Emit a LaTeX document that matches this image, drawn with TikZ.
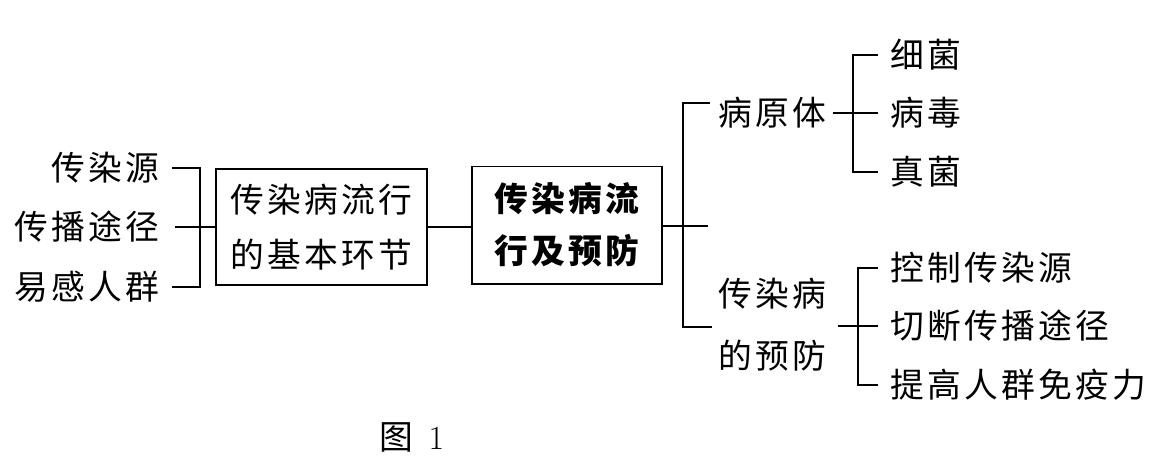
\documentclass[tikz,border=0pt]{standalone}
\usepackage{fontspec}
\newfontfamily\cjk[LetterSpace=10]{Noto Sans CJK SC}
\usepackage{tikz}
\usetikzlibrary{positioning,calc}

\begin{document}
\begin{tikzpicture}[
  x=0.025cm, y=-0.025cm,
  item/.style={inner sep=0pt, font=\cjk\fontsize{24}{31}\selectfont},
  frame/.style={draw, line width=1.4pt, inner sep=0pt, align=center, font=\cjk\fontsize{24}{39}\selectfont},
  link/.style={draw, line width=1.4pt}
]
  \useasboundingbox (0,0) rectangle (1167,470);

  % Left: the three links
  \node[item, anchor=east] (src) at (160,168) {传染源};
  \node[item, anchor=east] (route) at (160,227) {传播途径};
  \node[item, anchor=east] (host) at (160,287) {易感人群};

  % Boxes
  \node[frame, minimum width=5.275cm, minimum height=2.9cm] (chain) at (321.5,227) {传染病流行\\的基本环节};
  \node[frame, minimum width=4.75cm, minimum height=2.925cm, font=\cjk\bfseries\fontsize{24}{37}\selectfont] (topic) at (567,225) {传染病流\\行及预防};

  % Right: pathogens
  \node[item, anchor=west] (patho) at (718,113) {病原体};
  \node[item, anchor=west] (bact) at (890,55) {细菌};
  \node[item, anchor=west] (virus) at (890,113) {病毒};
  \node[item, anchor=west] (fungi) at (890,172) {真菌};

  % Right: prevention
  \node[item, anchor=west, align=left, font=\cjk\fontsize{24}{44}\selectfont] (prev) at (718,325) {传染病\\的预防};
  \node[item, anchor=west] (ctrl) at (890,268) {控制传染源};
  \node[item, anchor=west] (cut) at (890,326) {切断传播途径};
  \node[item, anchor=west] (immu) at (890,385) {提高人群免疫力};

  % Caption
  \node[inner sep=0pt, font=\fontsize{24}{28}\selectfont] (cap) at (412,437) {{\cjk 图}\hspace{0.45em}1};

  % Connectors
  \coordinate (lbr) at (200,227);
  \coordinate (mid) at (683,226);
  \coordinate (tee) at (708,226);
  \coordinate (pbr) at (853,113);
  \coordinate (qbr) at (858,326);

  \draw[link] ([xshift=3mm]src.east) -| (lbr) |- ([xshift=3mm]host.east);
  \draw[link] ([xshift=3.75mm]route.east) -- (chain.west);
  \draw[link] (chain.east) -- (topic.west |- chain.east);
  \draw[link] (topic.east |- mid) -- (tee);
  \draw[link] ([shift={(-8,-10)}]patho.west) -| (mid) |- ([shift={(-6,2)}]prev.west);
  \draw[link] ([xshift=-3mm]bact.west) -| (pbr) |- ([xshift=-3mm]fungi.west);
  \draw[link] ([xshift=1.5mm]patho.east) -- ([xshift=-3mm]virus.west);
  \draw[link] ([xshift=-3mm]ctrl.west) -| (qbr) |- ([xshift=-3mm]immu.west);
  \draw[link] ([xshift=2.75mm]prev.east |- cut.west) -- ([xshift=-3mm]cut.west);
\end{tikzpicture}
\end{document}
